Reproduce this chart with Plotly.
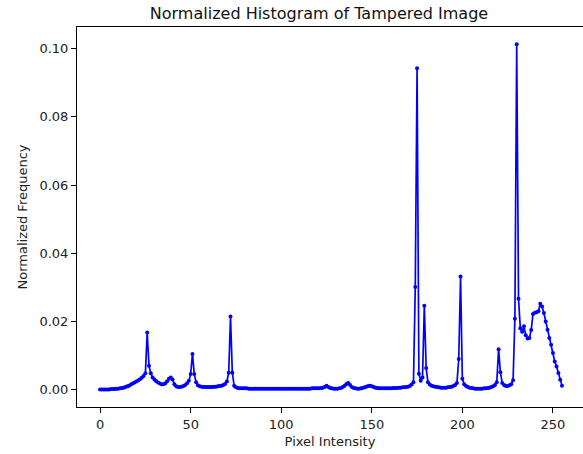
import plotly.graph_objects as go

intensity = list(range(256))
freq = [
    0.0001, 0.0001, 0.0001, 0.0001, 0.0001, 0.0001, 0.0002, 0.0002, 0.0002, 0.0003,
    0.0003, 0.0004, 0.0005, 0.0006, 0.0008, 0.0010, 0.0012, 0.0015, 0.0018, 0.0021,
    0.0024, 0.0027, 0.0031, 0.0035, 0.0040, 0.0048, 0.0168, 0.0070, 0.0048, 0.0036,
    0.0030, 0.0025, 0.0021, 0.0018, 0.0016, 0.0016, 0.0019, 0.0025, 0.0032, 0.0036,
    0.0030, 0.0016, 0.0010, 0.0008, 0.0008, 0.0009, 0.0011, 0.0014, 0.0019, 0.0026,
    0.0046, 0.0105, 0.0046, 0.0022, 0.0013, 0.0010, 0.0009, 0.0008, 0.0008, 0.0008,
    0.0008, 0.0008, 0.0008, 0.0009, 0.0009, 0.0010, 0.0011, 0.0012, 0.0014, 0.0017,
    0.0024, 0.0050, 0.0215, 0.0050, 0.0012, 0.0007, 0.0005, 0.0004, 0.0004, 0.0004,
    0.0004, 0.0004, 0.0003, 0.0003, 0.0003, 0.0003, 0.0003, 0.0003, 0.0003, 0.0003,
    0.0003, 0.0003, 0.0003, 0.0003, 0.0003, 0.0003, 0.0003, 0.0003, 0.0003, 0.0003,
    0.0003, 0.0003, 0.0003, 0.0003, 0.0003, 0.0003, 0.0003, 0.0003, 0.0003, 0.0003,
    0.0003, 0.0003, 0.0003, 0.0003, 0.0003, 0.0003, 0.0003, 0.0004, 0.0004, 0.0004,
    0.0004, 0.0004, 0.0005, 0.0006, 0.0008, 0.0012, 0.0008, 0.0005, 0.0004, 0.0003,
    0.0003, 0.0003, 0.0004, 0.0005, 0.0008, 0.0012, 0.0017, 0.0020, 0.0014, 0.0008,
    0.0005, 0.0004, 0.0003, 0.0003, 0.0004, 0.0005, 0.0007, 0.0009, 0.0011, 0.0012,
    0.0010, 0.0008, 0.0006, 0.0005, 0.0004, 0.0004, 0.0004, 0.0004, 0.0004, 0.0004,
    0.0004, 0.0004, 0.0005, 0.0005, 0.0005, 0.0006, 0.0006, 0.0007, 0.0007, 0.0008,
    0.0009, 0.0011, 0.0015, 0.0022, 0.0301, 0.0943, 0.0047, 0.0026, 0.0036, 0.0246,
    0.0064, 0.0022, 0.0015, 0.0012, 0.0010, 0.0009, 0.0008, 0.0007, 0.0006, 0.0006,
    0.0006, 0.0006, 0.0007, 0.0008, 0.0009, 0.0011, 0.0014, 0.0020, 0.0090, 0.0332,
    0.0032, 0.0016, 0.0011, 0.0008, 0.0006, 0.0005, 0.0004, 0.0003, 0.0003, 0.0003,
    0.0003, 0.0003, 0.0004, 0.0004, 0.0005, 0.0006, 0.0008, 0.0010, 0.0014, 0.0022,
    0.0119, 0.0051, 0.0020, 0.0014, 0.0011, 0.0011, 0.0013, 0.0016, 0.0028, 0.0208,
    0.1013, 0.0267, 0.0180, 0.0170, 0.0186, 0.0160, 0.0150, 0.0152, 0.0175, 0.0222,
    0.0226, 0.0227, 0.0230, 0.0252, 0.0244, 0.0225, 0.0200, 0.0176, 0.0152, 0.0132,
    0.0108, 0.0083, 0.0068, 0.0049, 0.0029, 0.0012,
]

x_ticks = [0, 50, 100, 150, 200, 250]
y_ticks = [0.00, 0.02, 0.04, 0.06, 0.08, 0.10]
y_tick_labels = ["0.00", "0.02", "0.04", "0.06", "0.08", "0.10"]

font_family = "DejaVu Sans"

fig = go.Figure()
fig.add_trace(go.Scatter(
    x=intensity, y=freq, mode="lines+markers",
    line=dict(color="#0000ff", width=1.7),
    marker=dict(color="#0000ff", size=4),
    showlegend=False,
))

fig.update_layout(
    width=583, height=454,
    margin=dict(l=77, r=0, t=27, b=47),
    paper_bgcolor="white", plot_bgcolor="white",
    font=dict(family=font_family, size=13, color="#222222"),
    title=dict(text="Normalized Histogram of Tampered Image",
               x=319 / 583, xref="container", xanchor="center",
               y=1 - 13 / 454, yref="container", yanchor="middle",
               font=dict(size=16, color="#111111")),
)
fig.update_xaxes(
    range=[-12.75, 266.6], tickvals=x_ticks,
    showgrid=False, zeroline=False,
    showline=True, linecolor="black", linewidth=1, mirror=True,
    ticks="outside", ticklen=5, tickcolor="black", tickwidth=1,
    title=dict(text="Pixel Intensity", standoff=6, font=dict(size=13)),
)
fig.update_yaxes(
    range=[-0.005065, 0.106365], tickvals=y_ticks, ticktext=y_tick_labels,
    showgrid=False, zeroline=False,
    showline=True, linecolor="black", linewidth=1, mirror=False,
    ticks="outside", ticklen=5, tickcolor="black", tickwidth=1,
    title=dict(text="Normalized Frequency", standoff=8, font=dict(size=13)),
)

fig.write_html("out.html", config={"displayModeBar": False},
               post_script="document.body.style.margin='0';")
